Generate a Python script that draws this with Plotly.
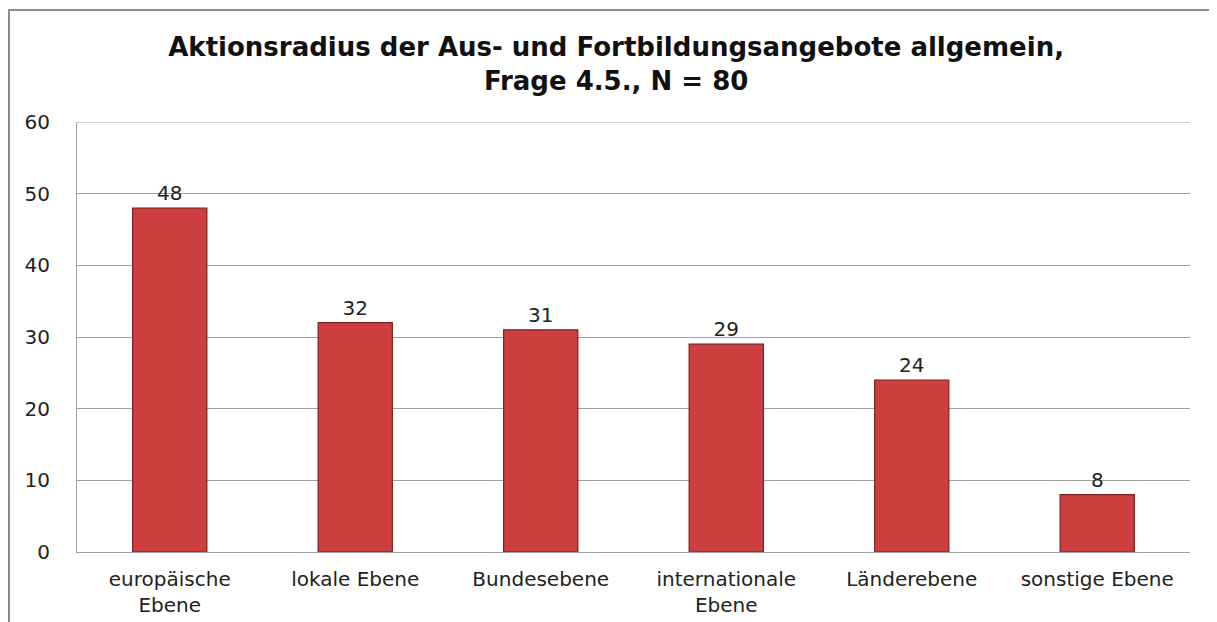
import plotly.graph_objects as go

categories = ["europäische<br>Ebene", "lokale Ebene", "Bundesebene",
              "internationale<br>Ebene", "Länderebene", "sonstige Ebene"]
values = [48, 32, 31, 29, 24, 8]
y_ticks = [0, 10, 20, 30, 40, 50, 60]

FONT = "DejaVu Sans, Verdana, sans-serif"

fig = go.Figure()
fig.add_trace(go.Bar(
    x=categories, y=values,
    width=0.40,
    marker=dict(
        color="#cd3e3e",
        line=dict(color="#7d2020", width=1.2),
    ),
    text=[str(v) for v in values],
    textposition="outside",
    textfont=dict(family=FONT, size=20, color="#222222"),
    cliponaxis=False,
))

fig.update_layout(
    width=1209, height=614,
    paper_bgcolor="white", plot_bgcolor="white",
    margin=dict(l=69, r=27, t=114, b=70, autoexpand=False),
    title=dict(
        text="<b>Aktionsradius der Aus- und Fortbildungsangebote allgemein,<br>Frage 4.5., N = 80</b>",
        x=0.503, xanchor="center", y=0.922, yanchor="middle",
        font=dict(family=FONT, size=26, color="#111111"),
        automargin=False,
    ),
    showlegend=False,
    xaxis=dict(
        automargin=False,
        showgrid=False, showline=True, linecolor="#a0a0a0", linewidth=1,
        ticks="outside", ticklen=9, tickcolor="rgba(0,0,0,0)",
        tickfont=dict(family=FONT, size=20, color="#222222"),
    ),
    yaxis=dict(
        automargin=False,
        range=[0, 60], tickvals=y_ticks,
        showgrid=True, gridcolor="#a0a0a0", gridwidth=1,
        showline=True, linecolor="#a0a0a0", linewidth=1,
        zeroline=False,
        ticks="outside", ticklen=22, tickcolor="rgba(0,0,0,0)",
        tickfont=dict(family=FONT, size=20, color="#222222"),
    ),
    shapes=[
        dict(
            type="rect", xref="paper", yref="paper",
            x0=-0.0611, x1=1.2, y0=-0.3, y1=1.2605,
            line=dict(color="#8a8a8a", width=2),
            fillcolor="rgba(0,0,0,0)", layer="below",
        ),
        dict(
            type="line", xref="paper", yref="y",
            x0=0, x1=1, y0=y_ticks[-1], y1=y_ticks[-1],
            line=dict(color="#a0a0a0", width=1), layer="below",
        ),
    ],
)

fig.write_html("out.html")
